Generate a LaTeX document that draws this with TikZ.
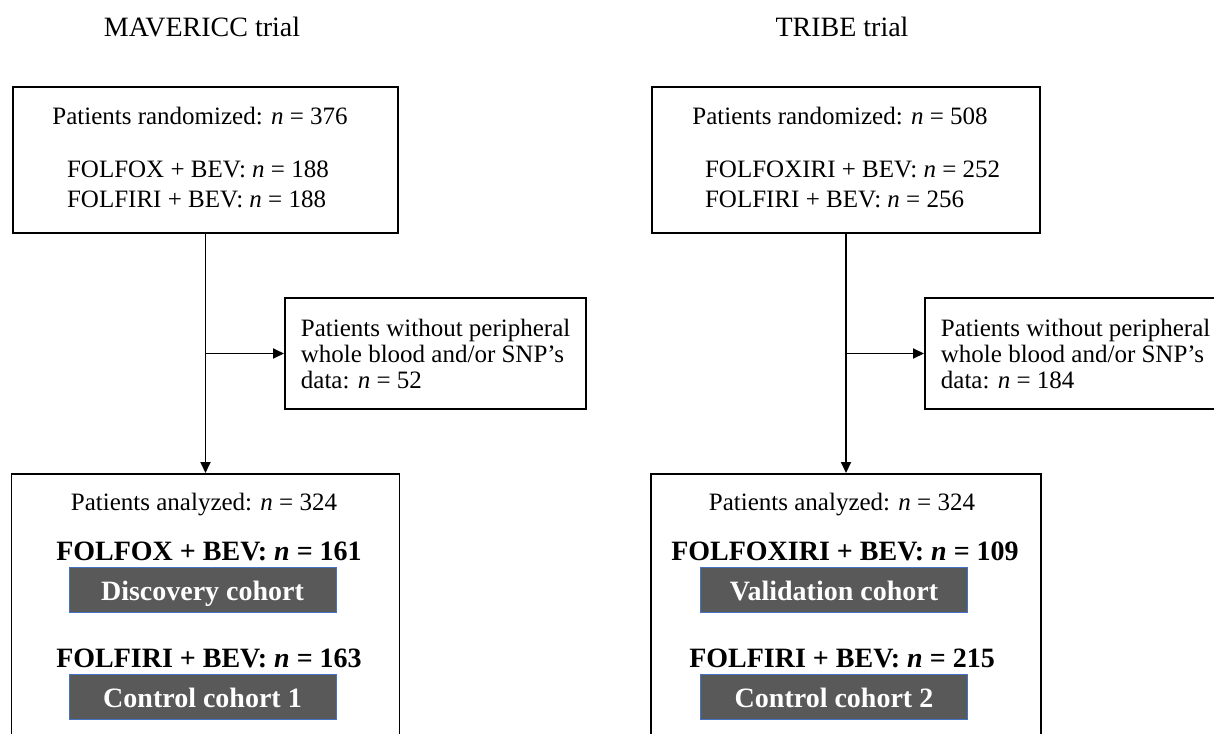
\documentclass[tikz,border=0pt]{standalone}
\usepackage{fontspec}
\setmainfont{Liberation Serif}
\usetikzlibrary{arrows.meta}

\definecolor{cohortfill}{HTML}{595959}
\definecolor{cohortedge}{HTML}{4472C4}

\tikzstyle{box} = [draw, line width=0.9pt, inner sep=0pt]
\tikzstyle{cohort} = [draw=cohortedge, line width=0.5pt, fill=cohortfill, text=white, inner sep=0pt,
                      text height=13.5pt, text depth=3pt,
                      minimum width=133.5pt, minimum height=22.5pt, font=\fontsize{14}{16}\selectfont\bfseries]
\tikzstyle{arm} = [font=\fontsize{14}{16}\selectfont\bfseries, anchor=base]
\tikzstyle{flow} = [line width=0.9pt, -{Triangle[length=5.5pt, width=5pt]}]
\tikzstyle{excl} = [box, anchor=west, align=left, inner xsep=8pt, minimum width=150.5pt,
                    minimum height=55.5pt, font=\fontsize{12.5}{13}\selectfont]

\begin{document}
\begin{tikzpicture}[x=0.5pt, y=-0.5pt, font=\fontsize{12.5}{15}\selectfont]
        \useasboundingbox (0,0) rectangle (1214,733);
        \clip (0,0) rectangle (1214,733);

        % Titles
        \node (ltitle) at (202,37) [anchor=base, font=\fontsize{14}{16}\selectfont] {MAVERICC trial};
        \node (rtitle) at (842,37) [anchor=base, font=\fontsize{14}{16}\selectfont] {TRIBE trial};

        % MAVERICC trial
        \node (ltop) at (205.5,160) [box, minimum width=192.5pt, minimum height=73pt] {};
        \node (lrand) at (200,125) [anchor=base] {Patients randomized: \textit{n} = 376};
        \node (larm1) at (60,177)  [anchor=base west] {FOLFOX + BEV: \textit{n} = 188};
        \node (larm2) at (60,207)  [anchor=base west] {FOLFIRI + BEV: \textit{n} = 188};

        \node (lexcl) at (284,353.5) [excl] {Patients without peripheral\\whole blood and/or SNP’s\\data: \textit{n} = 52};

        \node (lbot) at (205.5,473) [box, anchor=north, minimum width=194pt, minimum height=150pt] {};
        \node (lanal) at (204,510) [anchor=base] {Patients analyzed: \textit{n} = 324};
        \node (lfox) at (209,560) [arm] {FOLFOX + BEV: \textit{n} = 161};
        \node (ldisc) at (202.5,589.5) [cohort] {Discovery cohort};
        \node (lfiri) at (209,667) [arm] {FOLFIRI + BEV: \textit{n} = 163};
        \node (lctrl) at (202.5,697) [cohort] {Control cohort 1};

        \coordinate (lsplit) at (ltop.south |- lexcl.west);
        \draw[flow] (ltop.south) -- (lbot.north);
        \draw[flow] (lsplit) -- (lexcl.west);

        % TRIBE trial
        \node (rtop) at (846,160) [box, minimum width=194pt, minimum height=73pt] {};
        \node (rrand) at (840,125) [anchor=base] {Patients randomized: \textit{n} = 508};
        \node (rarm1) at (698,177) [anchor=base west] {FOLFOXIRI + BEV: \textit{n} = 252};
        \node (rarm2) at (698,207) [anchor=base west] {FOLFIRI + BEV: \textit{n} = 256};

        \node (rexcl) at (924,353.5) [excl] {Patients without peripheral\\whole blood and/or SNP’s\\data: \textit{n} = 184};

        \node (rbot) at (846,473) [box, anchor=north, minimum width=195pt, minimum height=150pt] {};
        \node (ranal) at (842,510) [anchor=base] {Patients analyzed: \textit{n} = 324};
        \node (rfox) at (845,560) [arm] {FOLFOXIRI + BEV: \textit{n} = 109};
        \node (rvali) at (834,589.5) [cohort] {Validation cohort};
        \node (rfiri) at (842,667) [arm] {FOLFIRI + BEV: \textit{n} = 215};
        \node (rctrl) at (834,697) [cohort] {Control cohort 2};

        \coordinate (rsplit) at (rtop.south |- rexcl.west);
        \draw[flow] (rtop.south) -- (rbot.north);
        \draw[flow] (rsplit) -- (rexcl.west);
\end{tikzpicture}
\end{document}
